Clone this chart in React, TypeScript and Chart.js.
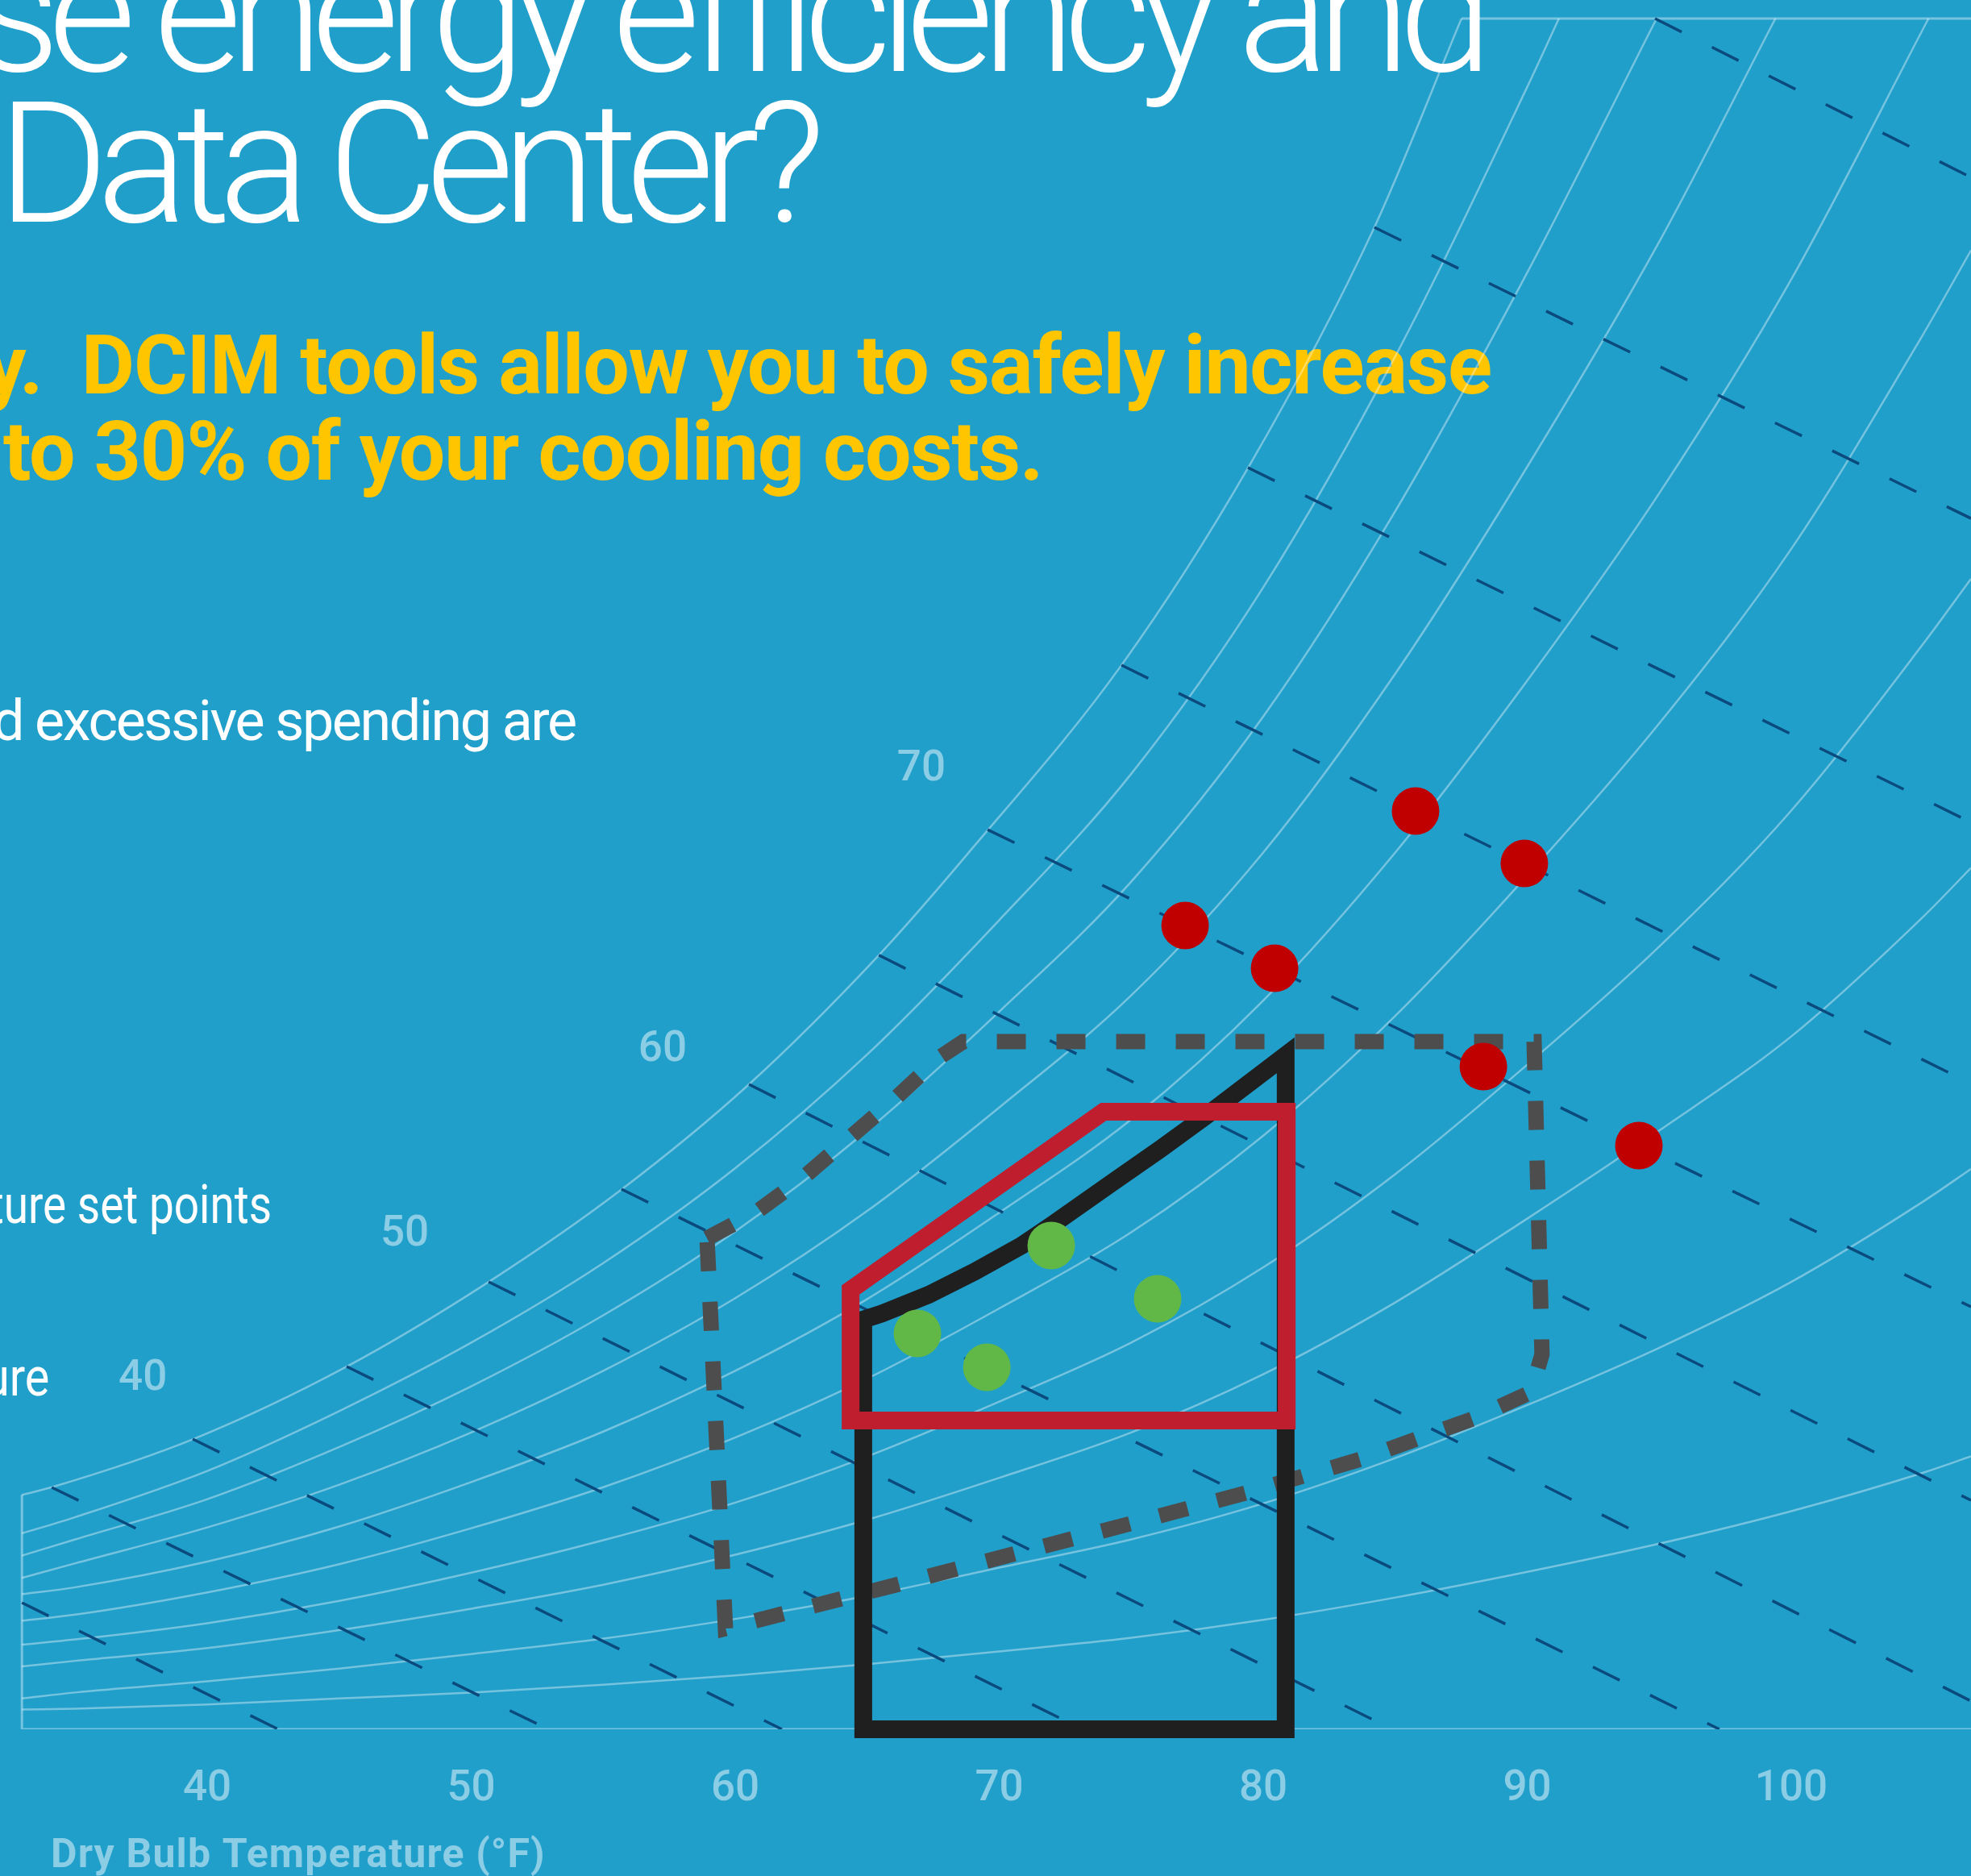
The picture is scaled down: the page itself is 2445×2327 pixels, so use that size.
import React, { useEffect, useRef } from 'react';
import { Chart, registerables } from 'chart.js';

Chart.register(...registerables);

type Pt = [number, number];

// ---------- data (dry bulb °F, humidity ratio gr/lb) ----------
const tempTicks = [40, 50, 60, 70, 80, 90, 100];

const rh100: Pt[] = [[32.98, 27.4], [34.11, 28.3], [39.45, 33.9], [45.28, 42.4], [50.66, 52.3], [55.69, 63.1], [60.52, 75.4], [65.44, 90.5], [68.79, 102.3], [74.63, 124.4], [79.45, 147.6], [84.21, 175.6], [87.51, 200]];
const rh90: Pt[] = [[32.98, 22.9], [35, 24.8], [40, 30.2], [45, 37.2], [50, 45.2], [55, 54.5], [60, 65.6], [65, 78.9], [70, 94.6], [75, 111.7], [80, 133.5], [85, 160.5], [90, 192.0], [91.2, 200]];
const rh80: Pt[] = [[32.98, 20.3], [35, 22.2], [40, 26.9], [45, 33.0], [50, 40.1], [55, 48.4], [60, 58.2], [65, 70.0], [70, 83.9], [75, 99.1], [80, 118.4], [85, 142.4], [90, 170.3], [94.9, 200]];
const rh70: Pt[] = [[32.98, 17.7], [35, 19.4], [40, 23.6], [45, 28.6], [50, 34.7], [55, 41.9], [60, 50.4], [65, 60.6], [70, 72.7], [75, 85.8], [80, 102.5], [85, 123.4], [90, 147.6], [95, 173.9], [99.4, 200]];
const rh60: Pt[] = [[32.98, 15.8], [35, 16.6], [40, 19.6], [45, 23.7], [50, 28.9], [55, 34.8], [60, 41.9], [65, 50.3], [70, 60.4], [75, 71.3], [80, 85.2], [85, 102.5], [90, 122.6], [95, 144.5], [100, 169.5], [105.2, 200]];
const rh50: Pt[] = [[32.98, 12.7], [35, 13.4], [40, 16.0], [45, 19.3], [50, 23.5], [55, 28.3], [60, 34.1], [65, 41.0], [70, 49.2], [75, 58.1], [80, 69.4], [85, 83.4], [90, 99.8], [95, 117.6], [100, 138.0], [105, 163.1], [106.81, 172.9]];
const rh40: Pt[] = [[32.98, 9.9], [35, 10.5], [40, 12.4], [45, 15.0], [50, 18.3], [55, 22.1], [60, 26.5], [65, 31.9], [70, 38.3], [75, 45.2], [80, 54.0], [85, 64.9], [90, 77.7], [95, 91.5], [100, 107.4], [105, 126.9], [106.81, 134.5]];
const rh30: Pt[] = [[32.98, 7.35], [35, 8.0], [40, 9.5], [45, 11.6], [50, 14.1], [55, 16.9], [60, 20.4], [65, 24.5], [70, 29.4], [75, 34.7], [80, 41.5], [85, 49.9], [90, 59.7], [95, 70.0], [100, 81.0], [105, 95.0], [106.81, 100.7]];
const rh20: Pt[] = [[32.98, 3.6], [35, 4.3], [40, 5.6], [45, 7.1], [50, 8.8], [55, 10.6], [60, 12.9], [65, 15.6], [70, 18.9], [75, 22.2], [80, 26.4], [85, 31.7], [90, 37.9], [95, 44.6], [100, 52.3], [105, 61.7], [106.81, 65.5]];
const rh10: Pt[] = [[32.98, 2.3], [35, 2.4], [40, 2.9], [45, 3.6], [50, 4.3], [55, 5.2], [60, 6.3], [65, 7.6], [70, 9.1], [75, 10.7], [80, 12.8], [85, 15.4], [90, 18.4], [95, 21.7], [100, 25.5], [105, 30.0], [106.81, 31.9]];

const chartFrame: Pt[] = [[87.51, 200], [106.81, 200]];
const chartBase: Pt[] = [[32.98, 27.4], [32.98, 0], [106.81, 0]];

// wet bulb lines: start / end
const wetBulbStart: Pt[] = [[32.98, 14.8], [34.11, 28.28], [39.45, 33.93], [45.28, 42.41], [50.66, 52.31], [55.69, 63.15], [60.52, 75.4], [65.44, 90.5], [69.56, 105.18], [74.63, 124.41], [79.42, 147.5], [84.21, 175.59], [94.84, 200]];
const wetBulbEnd: Pt[] = [[42.69, 0], [52.92, 0], [61.77, 0], [73.16, 0], [84.89, 0], [97.28, 0], [106.81, 3.3], [106.81, 26.77], [106.81, 49.39], [106.81, 75.49], [106.81, 106.03], [106.81, 141.56], [106.81, 181.43]];

const satLabelText = ['40', '50', '60', '70'];
const satLabelT = [37.56, 47.48, 57.25, 67.05];
const satLabelW = [41.47, 58.34, 79.92, 112.72];

const allowableEnvelope: Pt[] = [[58.93, 57.40], [60.82, 60.51], [62.60, 64.56], [64.34, 69.18], [66.11, 73.89], [67.76, 78.61], [68.64, 80.40], [90.26, 80.40], [90.56, 43.83], [90.14, 39.40], [87.94, 36.29], [83.69, 31.57], [79.33, 27.62], [74.96, 24.03], [70.50, 20.45], [66.08, 16.87], [61.77, 13.48], [59.63, 11.78], [58.93, 57.40]];
const recommendedEnvelope: Pt[] = [[72, 36.1], [64.37, 36.1], [64.37, 51.37], [73.95, 72.2], [80.89, 72.2], [80.89, 36.1], [72, 36.1]];
const classEnvelope: Pt[] = [[72.5, 0], [64.85, 0], [64.85, 47.9], [65.55, 48.6], [67.33, 50.8], [69.07, 53.5], [70.84, 56.55], [71.97, 58.9], [74.32, 64.0], [76.09, 67.8], [77.83, 71.7], [80.85, 78.8], [80.85, 0], [72.5, 0]];

const hotSpots: Pt[] = [[77.04, 93.97], [80.43, 88.97], [85.77, 107.35], [89.89, 101.22], [88.34, 77.47], [94.23, 68.24]];
const goodSpots: Pt[] = [[66.90, 46.28], [69.53, 42.32], [71.97, 56.55], [76.00, 50.33]];

const titleLines = ['se energy efficiency and', 'Data Center?'];
const subtitleLines = ['y.  DCIM tools allow you to safely increase', 'to 30% of your cooling costs.'];
const bodyLines = ['d excessive spending are', 'ture set points', 'ure'];
const axisTitle = 'Dry Bulb Temperature (°F)';

// ---------- styles ----------
const PAGE_W = 2445;
const PAGE_H = 2327;
const BG = '#219fcb';
const CURVE = 'rgba(255,255,255,0.38)';
const NAVY = '#0a4a7d';
const LIGHT = '#8ccde6';
const YELLOW = '#ffc600';

const toXY = (pts: Pt[]) => pts.map(([x, y]) => ({ x, y }));

function drawFit(ctx: any, text: string, font: string, color: string, baseline: number,
  o: { left?: number; right?: number; spacing?: number }) {
  ctx.font = font;
  ctx.fillStyle = color;
  ctx.textBaseline = 'alphabetic';
  ctx.textAlign = 'left';
  const hasLS = 'letterSpacing' in ctx;
  if (hasLS) ctx.letterSpacing = '0px';
  let sp = o.spacing ?? 0;
  if (o.left !== undefined && o.right !== undefined && o.spacing === undefined) {
    const m = ctx.measureText(text);
    const ink = m.actualBoundingBoxLeft + m.actualBoundingBoxRight;
    sp = (o.right - o.left - ink) / Math.max(1, text.length - 1);
  }
  if (hasLS) {
    ctx.letterSpacing = sp + 'px';
    const m2 = ctx.measureText(text);
    const x = o.left !== undefined ? o.left + m2.actualBoundingBoxLeft : (o.right as number) - m2.actualBoundingBoxRight;
    ctx.fillText(text, x, baseline);
    ctx.letterSpacing = '0px';
  } else {
    const m = ctx.measureText(text);
    const ink = m.actualBoundingBoxLeft + m.actualBoundingBoxRight;
    const target = ink + sp * (text.length - 1);
    const k = target / ink;
    ctx.save();
    const x0 = o.left !== undefined ? o.left : (o.right as number) - target;
    ctx.translate(x0, baseline);
    ctx.scale(k, 1);
    ctx.fillText(text, m.actualBoundingBoxLeft, 0);
    ctx.restore();
  }
  return sp;
}

// right-aligned text, horizontally condensed by factor sx
function drawCondensed(ctx: any, text: string, font: string, color: string, baseline: number, right: number, sx: number) {
  ctx.save();
  ctx.font = font;
  ctx.fillStyle = color;
  ctx.textBaseline = 'alphabetic';
  ctx.textAlign = 'left';
  if ('letterSpacing' in ctx) ctx.letterSpacing = '0px';
  const m = ctx.measureText(text);
  ctx.translate(right, baseline);
  ctx.scale(sx, 1);
  ctx.fillText(text, -m.actualBoundingBoxRight, 0);
  ctx.restore();
}

const overlayPlugin = {
  id: 'overlay',
  beforeDraw(chart: any) {
    const ctx = chart.ctx;
    ctx.save();
    ctx.fillStyle = BG;
    ctx.fillRect(0, 0, chart.width, chart.height);
    ctx.restore();
  },
  beforeDatasetsDraw(chart: any) {
    const ctx = chart.ctx;
    ctx.save();
    const titleFont = '300 210px Roboto';
    const sp = drawFit(ctx, titleLines[1], titleFont, '#ffffff', 275, { left: 15, right: 1015 });
    drawFit(ctx, titleLines[0], titleFont, '#ffffff', 88, { right: 1836, spacing: sp });
    const subFont = '700 102px Roboto';
    const sp2 = drawFit(ctx, subtitleLines[1], subFont, YELLOW, 595, { left: 4, right: 1288 });
    drawFit(ctx, subtitleLines[0], subFont, YELLOW, 488, { right: 1849, spacing: sp2 });
    const bodyFont = '400 70px Roboto';
    drawFit(ctx, bodyLines[0], bodyFont, '#ffffff', 918, { left: -6, right: 714 });
    drawCondensed(ctx, bodyLines[1], '400 67px Roboto', '#ffffff', 1517, 335, 0.82);
    drawCondensed(ctx, bodyLines[2], '400 67px Roboto', '#ffffff', 1731, 60, 0.86);
    drawFit(ctx, axisTitle, '700 50px Roboto', LIGHT, 2316, { left: 66, right: 673 });

    const xs = chart.scales.x;
    const ys = chart.scales.y;
    ctx.font = '500 53px Roboto';
    ctx.fillStyle = LIGHT;
    ctx.textAlign = 'center';
    ctx.textBaseline = 'alphabetic';
    satLabelText.forEach((t, i) => {
      const px = xs.getPixelForValue(satLabelT[i]);
      const py = ys.getPixelForValue(satLabelW[i]);
      ctx.fillText(t, px, py + 19);
    });
    ctx.restore();
  },
};

export default function App() {
  const ref = useRef<HTMLCanvasElement | null>(null);

  useEffect(() => {
    document.body.style.margin = '0';
    document.body.style.overflow = 'hidden';
    const canvas = ref.current;
    if (!canvas) return;

    const curve = (pts: Pt[]) => ({
      data: toXY(pts), borderColor: CURVE, borderWidth: 2.5, pointRadius: 0,
      fill: false, cubicInterpolationMode: 'monotone' as const, order: 6,
    });

    const datasets: any[] = [
      curve(rh100), curve(rh90), curve(rh80), curve(rh70), curve(rh60),
      curve(rh50), curve(rh40), curve(rh30), curve(rh20), curve(rh10),
      { data: toXY(chartFrame), borderColor: CURVE, borderWidth: 3, pointRadius: 0, order: 7 },
      { data: toXY(chartBase), borderColor: CURVE, borderWidth: 3, pointRadius: 0, order: 7 },
    ];
    wetBulbStart.forEach((s, i) => {
      datasets.push({
        data: toXY([s, wetBulbEnd[i]]), borderColor: NAVY, borderWidth: 3.5,
        borderDash: [37, 42], borderCapStyle: 'butt', pointRadius: 0, order: 5,
      });
    });
    datasets.push({
      data: toXY(allowableEnvelope), borderColor: '#4d4d4d', borderWidth: 19,
      borderDash: [36, 38], borderCapStyle: 'butt', borderJoinStyle: 'miter', pointRadius: 0, order: 4, clip: false,
    });
    datasets.push({
      data: toXY(classEnvelope), borderColor: '#1f1f1f', borderWidth: 22,
      borderJoinStyle: 'miter', pointRadius: 0, order: 3, clip: false,
    });
    datasets.push({
      data: toXY(recommendedEnvelope), borderColor: '#be1e2d', borderWidth: 22,
      borderJoinStyle: 'miter', pointRadius: 0, order: 2, clip: false,
    });
    datasets.push({
      data: toXY(hotSpots), showLine: false, pointRadius: 29.5, pointHoverRadius: 29.5,
      pointBackgroundColor: '#c00000', pointBorderWidth: 0, borderColor: '#c00000', order: 1,
    });
    datasets.push({
      data: toXY(goodSpots), showLine: false, pointRadius: 29.5, pointHoverRadius: 29.5,
      pointBackgroundColor: '#62b846', pointBorderWidth: 0, borderColor: '#62b846', order: 1,
    });

    const chart = new Chart(canvas, {
      type: 'line',
      data: { datasets },
      options: {
        animation: false,
        responsive: false,
        devicePixelRatio: 1,
        events: [],
        layout: { padding: 0, autoPadding: false },
        plugins: { legend: { display: false }, tooltip: { enabled: false }, title: { display: false } },
        elements: { line: { tension: 0 } },
        scales: {
          x: {
            type: 'linear', position: 'bottom', min: 32.15, max: 106.81,
            grid: { display: false, drawTicks: false },
            border: { display: false },
            ticks: {
              color: LIGHT, padding: 43, autoSkip: false, maxRotation: 0, includeBounds: false,
              font: { family: 'Roboto', size: 53, weight: '500' },
            },
            afterBuildTicks: (s: any) => { s.ticks = tempTicks.map((v) => ({ value: v })); },
            afterFit: (s: any) => { s.height = PAGE_H - 2145; },
          },
          y: { type: 'linear', min: 0, max: 202.17, display: false },
        },
      } as any,
      plugins: [overlayPlugin],
    });
    return () => chart.destroy();
  }, []);

  return (
    <div style={{ position: 'absolute', left: 0, top: 0, width: PAGE_W, height: PAGE_H, background: BG, overflow: 'hidden' }}>
      <canvas ref={ref} width={PAGE_W} height={PAGE_H} style={{ display: 'block', width: PAGE_W, height: PAGE_H }} />
    </div>
  );
}
